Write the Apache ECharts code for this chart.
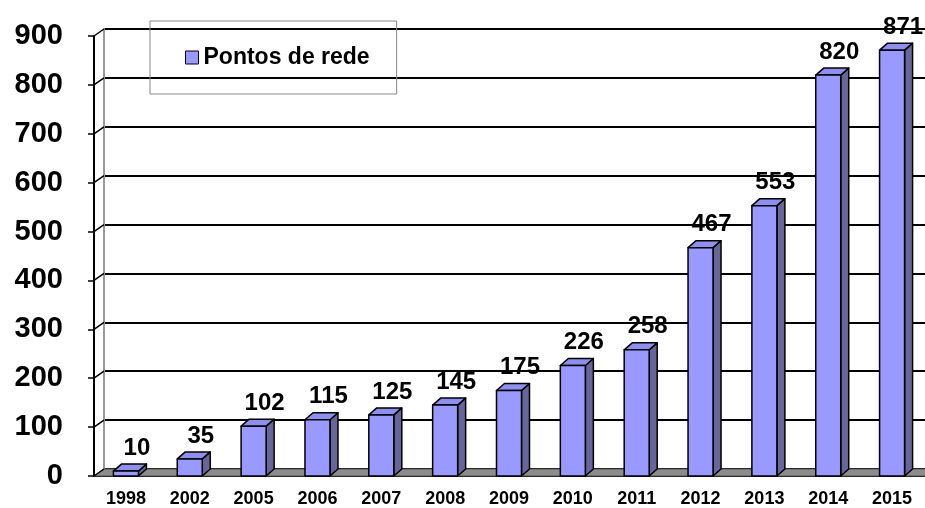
<!DOCTYPE html>
<html lang="pt">
<head>
  <meta charset="UTF-8">
  <title>Pontos de rede</title>
  <script src="https://cdn.jsdelivr.net/npm/echarts@6/dist/echarts.min.js"></script>
  <style>
    html, body { margin: 0; padding: 0; background: #fff; }
  </style>
</head>
<body>
<div id="main" style="width: 925px; height: 508px"></div>
<script>
  var years = ['1998', '2002', '2005', '2006', '2007', '2008', '2009', '2010', '2011', '2012', '2013', '2014', '2015'];
  var pontos = [10, 35, 102, 115, 125, 145, 175, 226, 258, 467, 553, 820, 871];
  var yTicks = [0, 100, 200, 300, 400, 500, 600, 700, 800, 900];

  var FONT = '"Liberation Sans", Arial, sans-serif';
  var FRONT = '#9999FF', SIDE = '#666699', TOP = '#8f8fef';
  // depth of the walls and of the bars
  var WALL_DX = 10, WALL_DY = 7;
  var BAR_DX = 8, BAR_DY = 7, BAR_W = 25;

  var chart = echarts.init(document.getElementById('main'));

  function renderWalls(params, api) {
    var cs = params.coordSys;
    var bottom = cs.y + cs.height;
    var kids = [{
      type: 'polygon',
      shape: { points: [[cs.x, bottom], [cs.x + WALL_DX, bottom - WALL_DY], [cs.x + cs.width + WALL_DX, bottom - WALL_DY], [cs.x + cs.width, bottom]] },
      style: { fill: '#8c8c8c', stroke: '#555', lineWidth: 1 }
    }];
    yTicks.forEach(function (t) {
      var y = api.coord([0, t])[1];
      kids.push({
        type: 'line',
        shape: { x1: cs.x, y1: y, x2: cs.x + WALL_DX, y2: y - WALL_DY },
        style: { stroke: '#000', lineWidth: 1.5 }
      });
    });
    return { type: 'group', children: kids };
  }

  function renderBar(params, api) {
    var v = api.value(1);
    var top = api.coord([api.value(0), v]);
    var base = api.coord([api.value(0), 0]);
    var x0 = top[0] - BAR_W / 2, x1 = top[0] + BAR_W / 2;
    var line = { stroke: '#000', lineWidth: 1.5, lineJoin: 'round' };
    return {
      type: 'group',
      children: [
        {
          type: 'polygon',
          shape: { points: [[x1, base[1]], [x1 + BAR_DX, base[1] - BAR_DY], [x1 + BAR_DX, top[1] - BAR_DY], [x1, top[1]]] },
          style: Object.assign({ fill: SIDE }, line)
        },
        {
          type: 'polygon',
          shape: { points: [[x0, top[1]], [x0 + BAR_DX, top[1] - BAR_DY], [x1 + BAR_DX, top[1] - BAR_DY], [x1, top[1]]] },
          style: Object.assign({ fill: TOP }, line)
        },
        {
          type: 'rect',
          shape: { x: x0, y: top[1], width: BAR_W, height: base[1] - top[1] },
          style: Object.assign({ fill: FRONT }, line)
        },
        {
          type: 'text',
          style: {
            text: String(v), x: top[0] + 11, y: top[1] - 11,
            align: 'center', verticalAlign: 'bottom',
            font: 'bold 24px ' + FONT, fill: '#000'
          }
        }
      ]
    };
  }

  var option = {
    animation: false,
    legend: {
      left: 150, top: 21,
      padding: [25, 27, 25, 35],
      borderColor: '#888', borderWidth: 1,
      itemWidth: 13, itemHeight: 13, itemGap: 5,
      icon: 'rect',
      itemStyle: { borderColor: '#000', borderWidth: 1 },
      textStyle: { fontFamily: FONT, fontWeight: 'bold', fontSize: 23, color: '#000' },
      data: ['Pontos de rede']
    },
    grid: [
      { left: 94, right: 1, top: 36, bottom: 32 },
      { left: 104, right: -9, top: 29, bottom: 39 }
    ],
    xAxis: [
      {
        type: 'category', gridIndex: 0, data: years,
        axisLine: { lineStyle: { color: '#000', width: 2 } },
        axisTick: { length: 5, lineStyle: { color: '#000', width: 1 } },
        axisLabel: { color: '#000', fontFamily: FONT, fontWeight: 'bold', fontSize: 18, margin: 14 }
      },
      { type: 'category', gridIndex: 1, data: years, show: false }
    ],
    yAxis: [
      {
        type: 'value', gridIndex: 0, min: 0, max: 900, interval: 100,
        axisLine: { show: true, lineStyle: { color: '#000', width: 2 } },
        axisTick: { show: true, length: 6, lineStyle: { color: '#000', width: 1.5 } },
        splitLine: { show: false },
        axisLabel: { color: '#000', fontFamily: FONT, fontWeight: 'bold', fontSize: 29, margin: 31 }
      },
      {
        type: 'value', gridIndex: 1, min: 0, max: 900, interval: 100,
        axisLine: { show: true, lineStyle: { color: '#999', width: 2 } },
        axisTick: { show: false },
        axisLabel: { show: false },
        splitLine: { lineStyle: { color: '#000', width: 2 } }
      }
    ],
    series: [
      {
        type: 'custom', name: 'walls', xAxisIndex: 0, yAxisIndex: 0,
        renderItem: renderWalls, data: [[0, 0]], silent: true, z: 1
      },
      {
        type: 'custom', name: 'Pontos de rede', xAxisIndex: 0, yAxisIndex: 0,
        renderItem: renderBar,
        itemStyle: { color: FRONT },
        encode: { x: 0, y: 1 },
        data: pontos.map(function (v, i) { return [i, v]; }),
        z: 2
      }
    ]
  };

  chart.setOption(option);
</script>
</body>
</html>
